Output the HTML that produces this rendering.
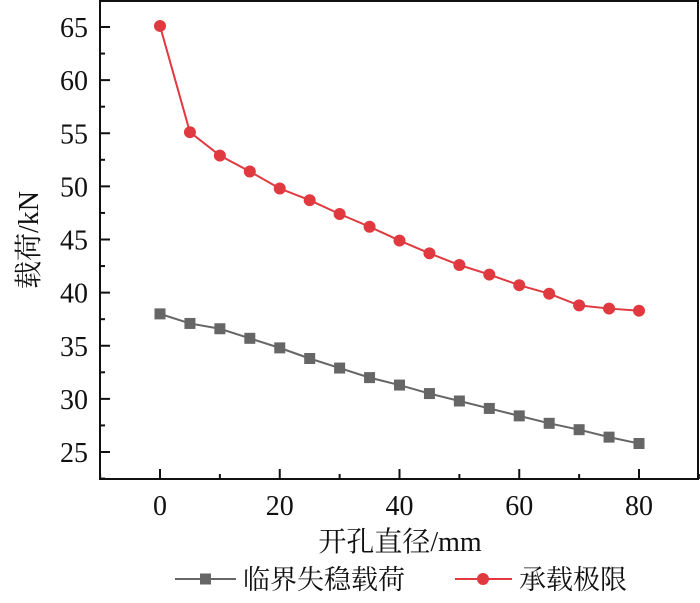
<!DOCTYPE html>
<html><head><meta charset="utf-8"><style>
body{margin:0;background:#fff;}
text{font-family:"Liberation Serif","Noto Serif CJK SC",serif;fill:#111;}
</style></head><body>
<svg id="chart" width="700" height="598" xmlns="http://www.w3.org/2000/svg"></svg>
<script>
const xValues=[0,5,10,15,20,25,30,35,40,45,50,55,60,65,70,75,80];
const bearingLimit=[65.1,55.1,52.9,51.4,49.8,48.7,47.4,46.2,44.9,43.7,42.6,41.7,40.7,39.9,38.8,38.5,38.3];
const bucklingLoad=[38.0,37.1,36.6,35.7,34.8,33.8,32.9,32.0,31.3,30.5,29.8,29.1,28.4,27.7,27.1,26.4,25.8];
const xTicks=[0,20,40,60,80];
const yTicks=[25,30,35,40,45,50,55,60,65];
const svg=document.getElementById('chart');
const NS='http://www.w3.org/2000/svg';
const L=100,R=698,T=1,B=479;
const sx=v=>160+(v-0)*(639-160)/80;
const sy=v=>452-(v-25)*(452-27)/40;
function mk(tag,attrs,parent){const e=document.createElementNS(NS,tag);for(const k in attrs)e.setAttribute(k,attrs[k]);(parent||svg).appendChild(e);return e;}
const frame=mk('rect',{x:L,y:T,width:R-L,height:B-T,fill:'none',stroke:'#111','stroke-width':2});


yTicks.forEach(v=>{
 const y=sy(v);
 const t=mk('line',{x1:L,x2:L+10,y1:y,y2:y,stroke:'#111','stroke-width':2});
 
 
 const m=mk('line',{x1:L,x2:L+5,y1:sy(v+2.5),y2:sy(v+2.5),stroke:'#111','stroke-width':2});
 
 
 const lb=mk('text',{x:L-12,y:y+10,'text-anchor':'end','font-size':28});
 lb.textContent=v;
 
 
});
{const m=mk('line',{x1:L,x2:L+5,y1:sy(22.5),y2:sy(22.5),stroke:'#111','stroke-width':2});
 
 }
xTicks.forEach(v=>{
 const x=sx(v);
 const t=mk('line',{x1:x,x2:x,y1:B,y2:B-10,stroke:'#111','stroke-width':2});
 
 
 const m=mk('line',{x1:sx(v-10),x2:sx(v-10),y1:B,y2:B-5,stroke:'#111','stroke-width':2});
 
 
 const lb=mk('text',{x:x,y:B+36,'text-anchor':'middle','font-size':28});
 lb.textContent=v;
 
 
});
{const m=mk('line',{x1:sx(90),x2:sx(90),y1:B,y2:B-5,stroke:'#111','stroke-width':2});
 
 }
const yt=mk('text',{x:0,y:0,'text-anchor':'middle','font-size':28,transform:'translate(38,240) rotate(-90)'});
yt.textContent='载荷/kN';


const xt=mk('text',{x:400,y:551,'text-anchor':'middle','font-size':28});
xt.textContent='开孔直径/mm';


function series(vals,color,shape,name){
 const pl=mk('polyline',{points:vals.map((v,i)=>sx(xValues[i])+','+sy(v)).join(' '),fill:'none',stroke:color,'stroke-width':2});
 
 
 vals.forEach((v,i)=>{
  const x=sx(xValues[i]),y=sy(v);
  let p;
  if(shape==='sq')p=mk('rect',{x:x-5.5,y:y-5.5,width:11,height:11,fill:color});
  else p=mk('circle',{cx:x,cy:y,r:6,fill:color});
  
  
 });
}
series(bucklingLoad,'#666666','sq','buckling-load');
series(bearingLimit,'#e0393f','ci','bearing-limit');
const lg=mk('g',{});


const l1=mk('line',{x1:175,x2:236,y1:579,y2:579,stroke:'#666','stroke-width':2},lg);


const s1=mk('rect',{x:200,y:573.5,width:11,height:11,fill:'#666'},lg);


const t1=mk('text',{x:243,y:589,'font-size':27},lg);
t1.textContent='临界失稳载荷';


const l2=mk('line',{x1:455,x2:512,y1:579,y2:579,stroke:'#e0393f','stroke-width':2},lg);


const c2=mk('circle',{cx:483,cy:579,r:6,fill:'#e0393f'},lg);


const t2=mk('text',{x:519,y:589,'font-size':27},lg);
t2.textContent='承载极限';


</script>
</body></html>
